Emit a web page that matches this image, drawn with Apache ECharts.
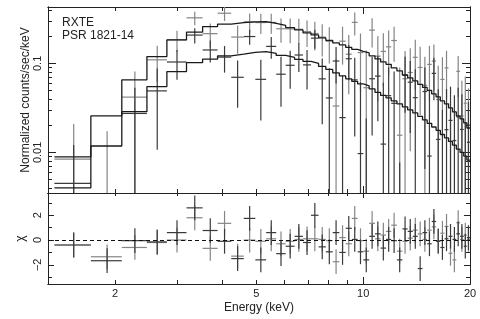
<!DOCTYPE html>
<html><head><meta charset="utf-8">
<script src="https://cdn.jsdelivr.net/npm/echarts@6/dist/echarts.min.js"></script>
<style>html,body{margin:0;padding:0;background:#fff}#c{width:480px;height:319px}</style>
</head><body><div id="c"></div>
<script>
// ---- data ----
const binEdges = [1.35,1.71,2.09,2.46,2.80,3.18,3.53,3.89,4.25,4.61,4.97,5.33,5.69,6.05,6.41,6.77,7.13,7.49,7.85,8.21,8.57,8.93,9.29,9.65,10.01,10.40,10.80,11.20,11.60,12.00,12.45,12.90,13.35,13.80,14.25,14.70,15.15,15.60,16.05,16.50,16.95,17.40,17.85,18.30,18.75,19.20,19.60,20.0];
const modelA = [0.0089,0.0257,0.0653,0.1192,0.1836,0.2242,0.2592,0.2764,0.2873,0.2933,0.2949,0.2814,0.2673,0.2519,0.2378,0.2202,0.2090,0.1934,0.1813,0.1700,0.1614,0.1513,0.1434,0.1364,0.1312,0.1215,0.1123,0.1040,0.0975,0.0890,0.0823,0.0743,0.0687,0.0636,0.0581,0.0537,0.0497,0.0454,0.0420,0.0379,0.0351,0.0316,0.0285,0.0257,0.0238,0.0215,0.0188];
const modelB = [0.0040,0.0118,0.0287,0.0549,0.0809,0.1021,0.1115,0.1215,0.1269,0.1329,0.1357,0.1296,0.1230,0.1168,0.1109,0.1053,0.1000,0.0925,0.0856,0.0782,0.0724,0.0670,0.0628,0.0588,0.0559,0.0517,0.0472,0.0437,0.0410,0.0379,0.0351,0.0324,0.0300,0.0278,0.0254,0.0232,0.0212,0.0193,0.0177,0.0159,0.0146,0.0133,0.0121,0.0109,0.0100,0.0091,0.0082];
const dataA = [0.0084,-0.0067,0.0418,0.1097,0.1836,0.325,0.2158,0.366,0.1976,0.2933,0.2875,0.2887,0.2449,0.2443,0.2416,0.2277,0.2167,0.1973,0.1774,0.0332,0.1775,0.1268,0.289,0.1322,0.0533,0.2364,0.1206,0.1364,0.1535,0.1808,0.0156,0.0672,0.0790,0.1170,0.0901,0.0568,0.0974,0.1062,0.0393,0.0661,0.0891,-0.0174,-0.0400,0.0814,0.0257,0.0357,0.0204];
const errA = [0.0125,0.024,0.0392,0.0477,0.0496,0.056,0.0648,0.0663,0.069,0.0704,0.0737,0.0732,0.0748,0.0756,0.0761,0.0749,0.0773,0.0774,0.078,0.0782,0.0807,0.0817,0.0832,0.0846,0.0866,0.0851,0.0831,0.0811,0.0800,0.0765,0.0741,0.0706,0.0687,0.0668,0.0639,0.0618,0.0596,0.0568,0.0546,0.0512,0.0491,0.0458,0.0428,0.0398,0.0381,0.0355,0.032];
const dataB = [0.0045,-0.0139,0.0274,0.0491,0.1037,0.208,0.1415,0.1176,0.0698,0.2003,0.0662,0.1553,0.0756,0.0952,0.1242,0.0962,0.192,0.0670,0.0409,0.1063,0.0246,0.1128,0.0653,0.0097,-0.0291,0.0672,0.0720,0.0124,0.0434,0.0356,-0.0379,0.0733,0.0615,0.0412,-0.0740,0.0483,0.0091,0.0772,0.0140,-0.0051,0.0180,0.0229,0.0136,0.0251,0.0181,-0.0036,0.0130];
const errB = [0.0076,0.0154,0.0258,0.0384,0.038,0.0408,0.039,0.0389,0.0381,0.0385,0.0434,0.0428,0.0431,0.0432,0.0444,0.0453,0.046,0.0463,0.0471,0.0469,0.0478,0.0482,0.0502,0.0517,0.0531,0.0517,0.0496,0.0481,0.0472,0.0455,0.0456,0.0454,0.045,0.0445,0.0432,0.0418,0.0403,0.0386,0.0372,0.035,0.0336,0.0319,0.0303,0.0283,0.027,0.0255,0.0238];
const chiA = [-0.4,-1.35,-0.6,-0.2,0,1.8,-0.67,1.35,-1.3,0,-0.1,0.1,-0.3,-0.1,0.05,0.1,0.1,0.05,-0.05,-1.75,0.2,-0.3,1.75,-0.05,-0.9,1.35,0.1,0.4,0.7,1.2,-0.9,-0.1,0.15,0.8,0.5,0.05,0.8,1.07,-0.05,0.55,1.1,-1.07,-1.6,1.4,0.05,0.4,0.05];
const chiB = [-0.4,-1.67,-0.05,-0.15,0.6,2.6,0.77,-0.1,-1.5,1.75,-1.6,0.6,-1.1,-0.5,0.3,-0.2,2.0,-0.55,-0.95,0.6,-1.0,0.95,0.05,-0.95,-1.6,0.3,0.5,-0.65,0.05,-0.05,-1.6,0.9,0.7,0.3,-2.3,0.6,-0.3,1.5,-0.1,-0.6,0.1,0.3,0.05,0.5,0.3,-0.5,0.2];

const xTickMinor = [2,3,4,5,6,7,8,9,20];
const xTickMajor = [10];
const xTickLabels = [2,5,10,20];
const yTickMajor = [0.01,0.1];
const yTickMinor = [0.004,0.005,0.006,0.007,0.008,0.009,0.02,0.03,0.04,0.05,0.06,0.07,0.08,0.09,0.2,0.3,0.4];
const rTickMajor = [-2,0,2];
const rTickMinor = [-3,-1,1,3];
const E_MIN = 1.295, E_MAX = 20, C_MIN = 0.0035, C_MAX = 0.43, R_MIN = -3.55, R_MAX = 3.8;

// ---- drawing ----
const L = Math.log10;
const FONT = '"Liberation Sans", Arial, sans-serif';
const INK = '#222';
const GREY = '#858585';
const DARK = '#3a3a3a';

function mkX(grid, pos, ticks, len, labelVals, name) {
  return {
    type: 'value', gridIndex: grid, position: pos,
    min: L(E_MIN), max: L(E_MAX),
    axisLine: {show: true, onZero: false, lineStyle: {color: INK, width: 1}},
    splitLine: {show: false},
    axisTick: {show: true, inside: true, length: len, customValues: ticks.map(L), lineStyle: {color: INK, width: 1}},
    axisLabel: labelVals ? {show: true, customValues: labelVals.map(L), margin: 4,
      formatter: v => String(Math.round(Math.pow(10, v))), fontSize: 11, color: INK, fontFamily: FONT} : {show: false},
    name: name || '', nameLocation: 'middle', nameGap: 18,
    nameTextStyle: {fontSize: 12, color: INK, fontFamily: FONT}
  };
}
function mkY(grid, pos, min, max, ticks, len, labelVals, fmt, name, gap) {
  return {
    type: 'value', gridIndex: grid, position: pos, min: min, max: max,
    axisLine: {show: true, onZero: false, lineStyle: {color: INK, width: 1}},
    splitLine: {show: false},
    axisTick: {show: true, inside: true, length: len, customValues: ticks, lineStyle: {color: INK, width: 1}},
    axisLabel: labelVals ? {show: true, customValues: labelVals, rotate: 90, margin: 5,
      formatter: fmt, fontSize: 11, color: INK, fontFamily: FONT} : {show: false},
    name: name || '', nameLocation: 'middle', nameRotate: 90, nameGap: gap || 15,
    nameMoveOverlap: false,
    nameTextStyle: {fontSize: 12, color: INK, fontFamily: FONT}
  };
}
const fmtC = v => String(+Math.pow(10, v).toPrecision(3));
const fmtR = v => v < 0 ? '\u2212' + (-v) : String(v);

const xAxis = [
  mkX(0, 'bottom', xTickMinor, 4), mkX(0, 'bottom', xTickMajor, 7),
  mkX(0, 'top', xTickMinor, 4), mkX(0, 'top', xTickMajor, 7),
  mkX(1, 'bottom', xTickMinor, 4, xTickLabels, 'Energy (keV)'), mkX(1, 'bottom', xTickMajor, 7),
  mkX(1, 'top', xTickMinor, 3), mkX(1, 'top', xTickMajor, 5)
];
const yAxis = [
  mkY(0, 'left', L(C_MIN), L(C_MAX), yTickMajor.map(L), 8, yTickMajor.map(L), fmtC, 'Normalized counts/sec/keV', 16),
  mkY(0, 'left', L(C_MIN), L(C_MAX), yTickMinor.map(L), 4),
  mkY(0, 'right', L(C_MIN), L(C_MAX), yTickMajor.map(L), 8),
  mkY(0, 'right', L(C_MIN), L(C_MAX), yTickMinor.map(L), 4),
  mkY(1, 'left', R_MIN, R_MAX, rTickMajor, 6, rTickMajor, fmtR, '\u03c7', 21),
  mkY(1, 'left', R_MIN, R_MAX, rTickMinor, 4),
  mkY(1, 'right', R_MIN, R_MAX, rTickMajor, 6),
  mkY(1, 'right', R_MIN, R_MAX, rTickMinor, 4)
];

function stepLine(model) {
  const pts = model.map((m, i) => [L(binEdges[i]), L(m)]);
  pts.push([L(binEdges[binEdges.length - 1]), L(model[model.length - 1])]);
  return {type: 'line', xAxisIndex: 0, yAxisIndex: 0, data: pts, step: 'end', showSymbol: false,
    lineStyle: {color: '#1a1a1a', width: 1.3}, z: 5, silent: true};
}

function crossMain(vals, errs, color) {
  return {
    type: 'custom', xAxisIndex: 0, yAxisIndex: 0, silent: true, z: 3,
    data: vals.map((v, i) => [L((binEdges[i] + binEdges[i + 1]) / 2), L(Math.min(Math.max(v, C_MIN), C_MAX))]),
    renderItem: (params, api) => {
      const i = params.dataIndex;
      const v = vals[i], e = errs[i];
      const x0 = binEdges[i], x1 = binEdges[i + 1], xc = (x0 + x1) / 2;
      const ch = [];
      const st = {stroke: color, lineWidth: 1.2};
      if (v > C_MIN && v < C_MAX) {
        const a = api.coord([L(x0), L(v)]), b = api.coord([L(x1), L(v)]);
        ch.push({type: 'line', shape: {x1: a[0], y1: a[1], x2: b[0], y2: b[1]}, style: st});
      }
      const hi = v + e, lo = v - e;
      if (hi > C_MIN) {
        const t = api.coord([L(xc), L(Math.min(hi, C_MAX))]);
        const u = api.coord([L(xc), L(Math.max(lo, C_MIN))]);
        ch.push({type: 'line', shape: {x1: t[0], y1: t[1], x2: u[0], y2: u[1]}, style: st});
      }
      return {type: 'group', children: ch};
    }
  };
}
function crossRes(chi, color, withZero) {
  const s = {
    type: 'custom', xAxisIndex: 4, yAxisIndex: 4, silent: true, z: 3,
    data: chi.map((r, i) => [L((binEdges[i] + binEdges[i + 1]) / 2), r]),
    renderItem: (params, api) => {
      const i = params.dataIndex;
      const r = chi[i];
      const x0 = binEdges[i], x1 = binEdges[i + 1], xc = (x0 + x1) / 2;
      const st = {stroke: color, lineWidth: 1.2};
      const a = api.coord([L(x0), r]), b = api.coord([L(x1), r]);
      const t = api.coord([L(xc), Math.min(r + 1, R_MAX)]), u = api.coord([L(xc), Math.max(r - 1, R_MIN)]);
      return {type: 'group', children: [
        {type: 'line', shape: {x1: a[0], y1: a[1], x2: b[0], y2: b[1]}, style: st},
        {type: 'line', shape: {x1: t[0], y1: t[1], x2: u[0], y2: u[1]}, style: st}
      ]};
    }
  };
  if (withZero) {
    s.markLine = {silent: true, symbol: 'none', label: {show: false},
      lineStyle: {type: [4, 3], color: '#111', width: 1.2}, data: [{yAxis: 0}]};
  }
  return s;
}

const chart = echarts.init(document.getElementById('c'), null, {renderer: 'canvas'});
chart.setOption({
  animation: false,
  backgroundColor: '#fff',
  grid: [
    {left: 48, right: 10, top: 7, height: 186},
    {left: 48, right: 10, top: 193, height: 91}
  ],
  xAxis: xAxis,
  yAxis: yAxis,
  graphic: [
    {type: 'text', left: 62, top: 17, style: {text: 'RXTE', fontSize: 12, fontFamily: FONT, fill: INK}},
    {type: 'text', left: 62, top: 30, style: {text: 'PSR 1821-14', fontSize: 12, fontFamily: FONT, fill: INK}}
  ],
  series: [
    crossMain(dataA, errA, GREY),
    crossMain(dataB, errB, DARK),
    stepLine(modelA),
    stepLine(modelB),
    crossRes(chiA, GREY, true),
    crossRes(chiB, DARK, false)
  ]
});
</script>
</body></html>
